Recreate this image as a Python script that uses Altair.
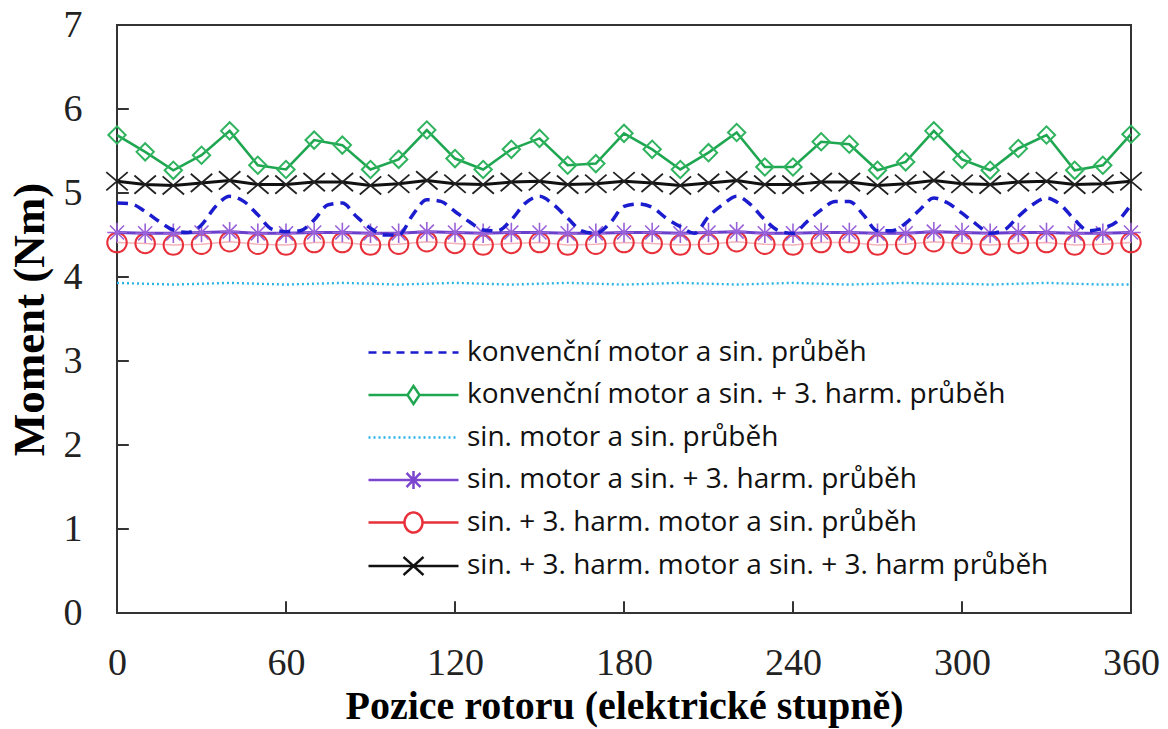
import altair as alt
import pandas as pd

# ---------------- data ----------------
angle = list(range(0, 361, 10))        # marker positions, electrical degrees
angle_fine = list(range(0, 361, 5))    # finer sampling for the smooth dashed curve

S1 = "konvenční motor a sin. průběh"
S2 = "konvenční motor a sin. + 3. harm. průběh"
S3 = "sin. motor a sin. průběh"
S4 = "sin. motor a sin. + 3. harm. průběh"
S5 = "sin. + 3. harm. motor a sin. průběh"
S6 = "sin. + 3. harm. motor a sin. + 3. harm průběh"
series_names = [S1, S2, S3, S4, S5, S6]

blue = [4.88, 4.87, 4.78, 4.66, 4.56, 4.53, 4.62, 4.84, 4.96, 4.90, 4.74, 4.57,
        4.54, 4.55, 4.68, 4.86, 4.88, 4.72, 4.58, 4.50, 4.50, 4.74, 4.92, 4.90,
        4.78, 4.66, 4.56, 4.55, 4.68, 4.88, 4.96, 4.86, 4.70, 4.55, 4.52, 4.64,
        4.84, 4.87, 4.83, 4.70, 4.60, 4.52, 4.72, 4.86, 4.96, 4.86, 4.68, 4.55,
        4.52, 4.66, 4.80, 4.90, 4.90, 4.74, 4.55, 4.55, 4.64, 4.80, 4.94, 4.88,
        4.76, 4.63, 4.52, 4.56, 4.72, 4.86, 4.94, 4.86, 4.68, 4.55, 4.58, 4.66,
        4.86]

green = [5.69, 5.49, 5.27, 5.45, 5.74, 5.33, 5.28, 5.63, 5.57, 5.28, 5.40, 5.75,
         5.41, 5.28, 5.52, 5.65, 5.33, 5.35, 5.71, 5.52, 5.28, 5.48, 5.72, 5.31,
         5.31, 5.61, 5.58, 5.27, 5.37, 5.74, 5.40, 5.27, 5.53, 5.69, 5.27, 5.33,
         5.70]

cyan = [3.93, 3.92, 3.91, 3.92, 3.93, 3.92, 3.91, 3.92, 3.93, 3.92, 3.91, 3.92,
        3.93, 3.92, 3.91, 3.92, 3.93, 3.92, 3.91, 3.92, 3.93, 3.92, 3.91, 3.92,
        3.93, 3.92, 3.91, 3.92, 3.93, 3.92, 3.92, 3.91, 3.92, 3.93, 3.92, 3.91,
        3.91]

purple = [4.53, 4.52, 4.52, 4.53, 4.54, 4.52, 4.52, 4.53, 4.53, 4.52, 4.52, 4.54,
          4.53, 4.52, 4.53, 4.53, 4.52, 4.52, 4.53, 4.53, 4.52, 4.53, 4.54, 4.52,
          4.52, 4.53, 4.53, 4.52, 4.52, 4.54, 4.53, 4.52, 4.53, 4.53, 4.52, 4.52,
          4.53]

red = [4.41, 4.40, 4.38, 4.39, 4.42, 4.39, 4.38, 4.41, 4.41, 4.38, 4.39, 4.42,
       4.40, 4.38, 4.40, 4.41, 4.38, 4.39, 4.41, 4.40, 4.38, 4.39, 4.42, 4.39,
       4.38, 4.41, 4.41, 4.38, 4.39, 4.42, 4.40, 4.38, 4.40, 4.41, 4.38, 4.39,
       4.41]

black = [5.14, 5.10, 5.09, 5.12, 5.15, 5.10, 5.10, 5.13, 5.13, 5.09, 5.11, 5.15,
         5.11, 5.10, 5.13, 5.14, 5.10, 5.11, 5.14, 5.12, 5.09, 5.12, 5.15, 5.10,
         5.10, 5.13, 5.13, 5.09, 5.11, 5.15, 5.11, 5.10, 5.13, 5.14, 5.10, 5.11,
         5.14]

x_ticks = [0, 60, 120, 180, 240, 300, 360]
y_ticks = [0, 1, 2, 3, 4, 5, 6, 7]
x_inner_ticks = [60, 120, 180, 240, 300]
y_inner_ticks = [1, 2, 3, 4, 5, 6]

# ---------------- styling ----------------
SERIF = "Liberation Serif"
SANS = "Open Sans"
FRAME = "#333333"

line_style = {
    S1: dict(color="#1c1ccf", strokeWidth=3.5, strokeDash=[11, 7], interpolate="monotone"),
    S2: dict(color="#1fa650", strokeWidth=2.6),
    S3: dict(color="#2ab4e6", strokeWidth=2.4, strokeDash=[2, 3]),
    S4: dict(color="#6a3fcc", strokeWidth=3),
    S5: dict(color="#f3b3b8", strokeWidth=1.5),
    S6: dict(color="#111111", strokeWidth=3),
}

ASTER = "M-1,0H1M0,-1V1M-0.72,-0.72L0.72,0.72M-0.72,0.72L0.72,-0.72"
XMARK = "M-1,-0.85L1,0.85M-1,0.85L1,-0.85"
marker_style = {
    S2: dict(shape="diamond", size=300, color="#2fb35e", strokeWidth=2),
    S4: dict(shape=ASTER, size=380, color="#9a62d8", strokeWidth=1.6),
    S5: dict(shape="circle", size=380, color="#e8303a", strokeWidth=2),
    S6: dict(shape=XMARK, size=460, color="#222222", strokeWidth=1.8),
}

# legend symbols: line + marker drawn as one path (units: 20 px)
LINE = "M-2.25,0H2.25"
legend_shapes = [
    LINE,
    "M-2.25,0H-0.3M0.3,0H2.25M-0.3,0L0,-0.45L0.3,0L0,0.45Z",
    LINE,
    "M-2.25,0H2.25M0,-0.45V0.45M-0.35,-0.35L0.35,0.35M-0.35,0.35L0.35,-0.35",
    "M-2.25,0H-0.45M0.45,0H2.25M0.45,0A0.45,0.5,0,1,1,-0.45,0A0.45,0.5,0,1,1,0.45,0",
    "M-2.25,0H2.25M-0.5,-0.45L0.5,0.45M-0.5,0.45L0.5,-0.45",
]
legend_colors = ["#1c1ccf", "#1fa650", "#2ab4e6", "#7b45cf", "#e8303a", "#111111"]
legend_dashes = [[8, 6], [1, 0], [2, 3], [1, 0], [1, 0], [1, 0]]

# ---------------- build ----------------
values = {S1: (angle_fine, blue), S2: (angle, green), S3: (angle, cyan),
          S4: (angle, purple), S5: (angle, red), S6: (angle, black)}

xscale = alt.Scale(domain=[0, 360], nice=False, zero=False)
yscale = alt.Scale(domain=[0, 7], nice=False)

xaxis = alt.Axis(values=x_ticks, title="Pozice rotoru (elektrické stupně)", format="d",
                 labelFont=SERIF, labelFontSize=38, labelColor="#222",
                 labelPadding=31, ticks=False, domain=False, grid=False,
                 titleFont=SERIF, titleFontSize=40, titleFontWeight="bold",
                 titleColor="#000", titlePadding=4, labelFlush=False)
yaxis = alt.Axis(values=y_ticks, title="Moment  (Nm)", format="d",
                 labelFont=SERIF, labelFontSize=38, labelColor="#222",
                 labelPadding=35, ticks=False, domain=False, grid=False,
                 titleFont=SERIF, titleFontSize=45, titleFontWeight="bold",
                 titleColor="#000", titlePadding=11, labelFlush=False)


def xenc(field):
    return alt.X(field, scale=xscale, axis=xaxis)


def yenc(field):
    return alt.Y(field, scale=yscale, axis=yaxis)


layers = []
for name in [S3, S5, S4, S1, S6, S2]:
    xs, ys = values[name]
    df = pd.DataFrame({"angle": xs, "torque": ys})
    layers.append(alt.Chart(df).mark_line(**line_style[name]).encode(
        x=xenc("angle:Q"), y=yenc("torque:Q")))
    if name in marker_style:
        layers.append(
            alt.Chart(df).mark_point(filled=False, opacity=1, **marker_style[name]).encode(
                x=xenc("angle:Q"), y=yenc("torque:Q"))
        )

# inward ticks of the frame
xt = pd.DataFrame({"t": x_inner_ticks})
layers.append(alt.Chart(xt).mark_rule(color=FRAME, strokeWidth=2).encode(
    x=xenc("t:Q"), y=alt.datum(0), y2=alt.datum(0.14)))
yt = pd.DataFrame({"t": y_inner_ticks})
layers.append(alt.Chart(yt).mark_rule(color=FRAME, strokeWidth=2).encode(
    y=yenc("t:Q"), x=alt.datum(0), x2=alt.datum(4.2)))

# legend (no visible marks, only the legend)
leg_df = pd.DataFrame({"series": series_names})
legend = alt.Legend(
    title=None, orient="none", legendX=275, legendY=306,
    labelFont=SANS, labelFontSize=28, labelColor="#111", labelLimit=900,
    labelOffset=32, symbolStrokeWidth=2.5, symbolSize=1600, rowPadding=6.5,
)
layers.append(
    alt.Chart(leg_df).transform_filter("false").mark_point(
        filled=False, opacity=1, strokeWidth=2.5, size=1600
    ).encode(
        color=alt.Color("series:N", scale=alt.Scale(domain=series_names, range=legend_colors),
                        legend=legend),
        shape=alt.Shape("series:N", scale=alt.Scale(domain=series_names, range=legend_shapes),
                        legend=legend),
        strokeDash=alt.StrokeDash("series:N", scale=alt.Scale(domain=series_names, range=legend_dashes),
                                  legend=legend),
    )
)

chart = alt.layer(*layers).properties(
    width=1014, height=588,
    autosize=alt.AutoSizeParams(type="none"),
    padding={"left": 117, "top": 25, "right": 37, "bottom": 116},
    background="white",
).configure_view(stroke=FRAME, strokeWidth=2)

chart.save("out.html", embed_options={"renderer": "svg", "actions": False})
